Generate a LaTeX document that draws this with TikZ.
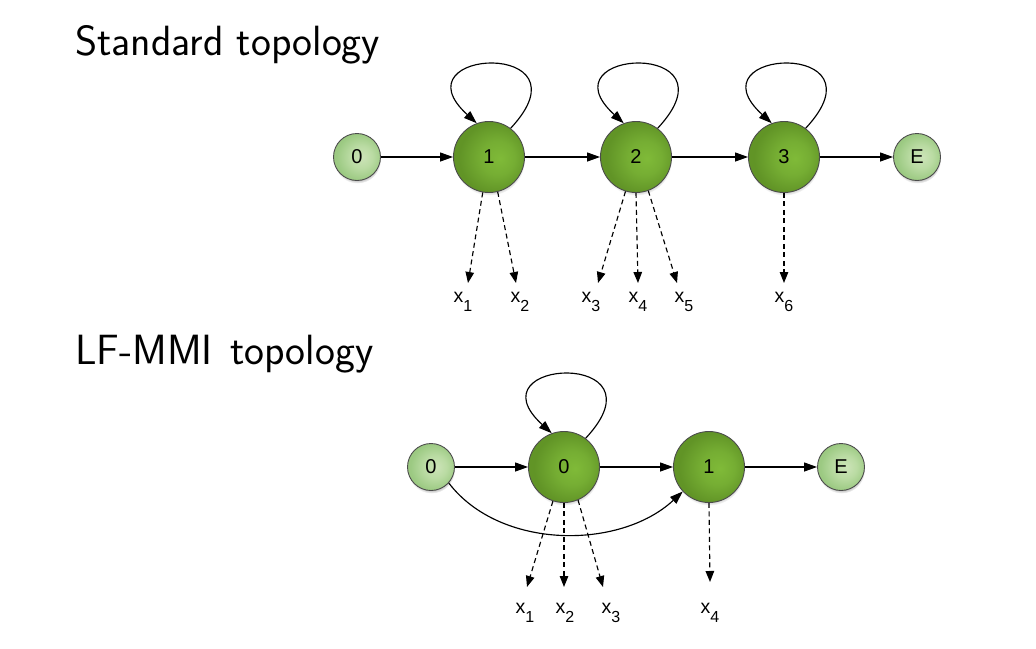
\documentclass[tikz,border=0pt]{standalone}
\usepackage{fontspec}
\newfontfamily\helv{Liberation Sans}
\usetikzlibrary{arrows.meta,shadows}
\pgfdeclareradialshading{bigball}{\pgfpoint{8bp}{-1bp}}{rgb(0bp)=(0.50,0.73,0.22); rgb(12bp)=(0.46,0.68,0.20); rgb(25bp)=(0.38,0.58,0.15); rgb(50bp)=(0.38,0.58,0.15)}
\pgfdeclareradialshading{smallball}{\pgfpoint{6bp}{0bp}}{rgb(0bp)=(0.80,0.89,0.72); rgb(12bp)=(0.73,0.86,0.64); rgb(25bp)=(0.61,0.79,0.51); rgb(50bp)=(0.61,0.79,0.51)}
\tikzset{
  ball/.style={circle, draw=black!70, line width=0.9pt, inner sep=0pt,
    font=\helv\fontsize{20}{20}\selectfont,
    circular drop shadow={shadow xshift=0.5pt, shadow yshift=-3pt, shadow scale=1.0, opacity=0.5}},
  bigball/.style={ball, minimum size=71pt, shading=bigball},
  smallball/.style={ball, minimum size=47pt, shading=smallball},
  trans/.style={line width=1.15pt, -{Triangle[length=13pt,width=9pt]}},
  emit/.style={line width=1.15pt, dash pattern=on 5pt off 3.5pt, -{Triangle[length=11pt,width=8.5pt]}},
  obs/.style={anchor=base, inner sep=0pt, font=\helv\fontsize{19.5}{19.5}\selectfont},
  title/.style={anchor=base west, inner sep=0pt, font=\sffamily\fontsize{42.3}{42.3}\selectfont}
}
\newcommand{\obsx}[1]{x\raisebox{-9pt}{\fontsize{16}{16}\selectfont #1}}
\begin{document}
\begin{tikzpicture}[x=1pt,y=-1pt]
\useasboundingbox (0,0) rectangle (1036,648);
% titles
\node[title] (t1) at (75,55) {Standard topology};
\node[title] (t2) at (75,364) {LF-MMI\hspace{4pt} topology};
% ---------- standard topology ----------
\node[smallball] (s0) at (357,157) {0};
\node[bigball] (s1) at (489,157) {1};
\node[bigball] (s2) at (636,157) {2};
\node[bigball] (s3) at (784,157) {3};
\node[smallball] (sE) at (917,157) {E};
\draw[trans] (s0) -- (s1);
\draw[trans] (s1) -- (s2);
\draw[trans] (s2) -- (s3);
\draw[trans] (s3) -- (sE);
\foreach \n/\cx in {s1/489, s2/636, s3/784}{
  \draw[trans] (\n.53) .. controls (\cx+105,157-118) and (\cx-95,157-109) .. (\n.110);
}
\coordinate (e1) at (468,283);
\coordinate (e2) at (516,283);
\coordinate (e3) at (598,283);
\coordinate (e4) at (638,283);
\coordinate (e5) at (677,283);
\coordinate (e6) at (784,283);
\draw[emit] (s1.-100) -- (e1);
\draw[emit] (s1.-76) -- (e2);
\draw[emit] (s2.-107) -- (e3);
\draw[emit] (s2.-90) -- (e4);
\draw[emit] (s2.-70) -- (e5);
\draw[emit] (s3.-90) -- (e6);
\node[obs] (l1) at (463,302) {\obsx{1}};
\node[obs] (l2) at (520,302) {\obsx{2}};
\node[obs] (l3) at (591,302) {\obsx{3}};
\node[obs] (l4) at (638,302) {\obsx{4}};
\node[obs] (l5) at (684,302) {\obsx{5}};
\node[obs] (l6) at (784,302) {\obsx{6}};
% ---------- LF-MMI topology ----------
\node[smallball] (m0) at (431,467) {0};
\node[bigball] (m1) at (564,467) {0};
\node[bigball] (m2) at (709,467) {1};
\node[smallball] (mE) at (841,467) {E};
\draw[trans] (m0) -- (m1);
\draw[trans] (m1) -- (m2);
\draw[trans] (m2) -- (mE);
\draw[trans] (m1.53) .. controls (669,349) and (469,358) .. (m1.110);
\draw[trans] (m0.-42) .. controls (500,550) and (620,550) .. (m2.-137);
\coordinate (f1) at (527,587);
\coordinate (f2) at (564,587);
\coordinate (f3) at (603,587);
\coordinate (f4) at (710,582);
\draw[emit] (m1.-108) -- (f1);
\draw[emit] (m1.-90) -- (f2);
\draw[emit] (m1.-67) -- (f3);
\draw[emit] (m2.-90) -- (f4);
\node[obs] (k1) at (525,613) {\obsx{1}};
\node[obs] (k2) at (565,613) {\obsx{2}};
\node[obs] (k3) at (611,613) {\obsx{3}};
\node[obs] (k4) at (710,613) {\obsx{4}};
\end{tikzpicture}
\end{document}
